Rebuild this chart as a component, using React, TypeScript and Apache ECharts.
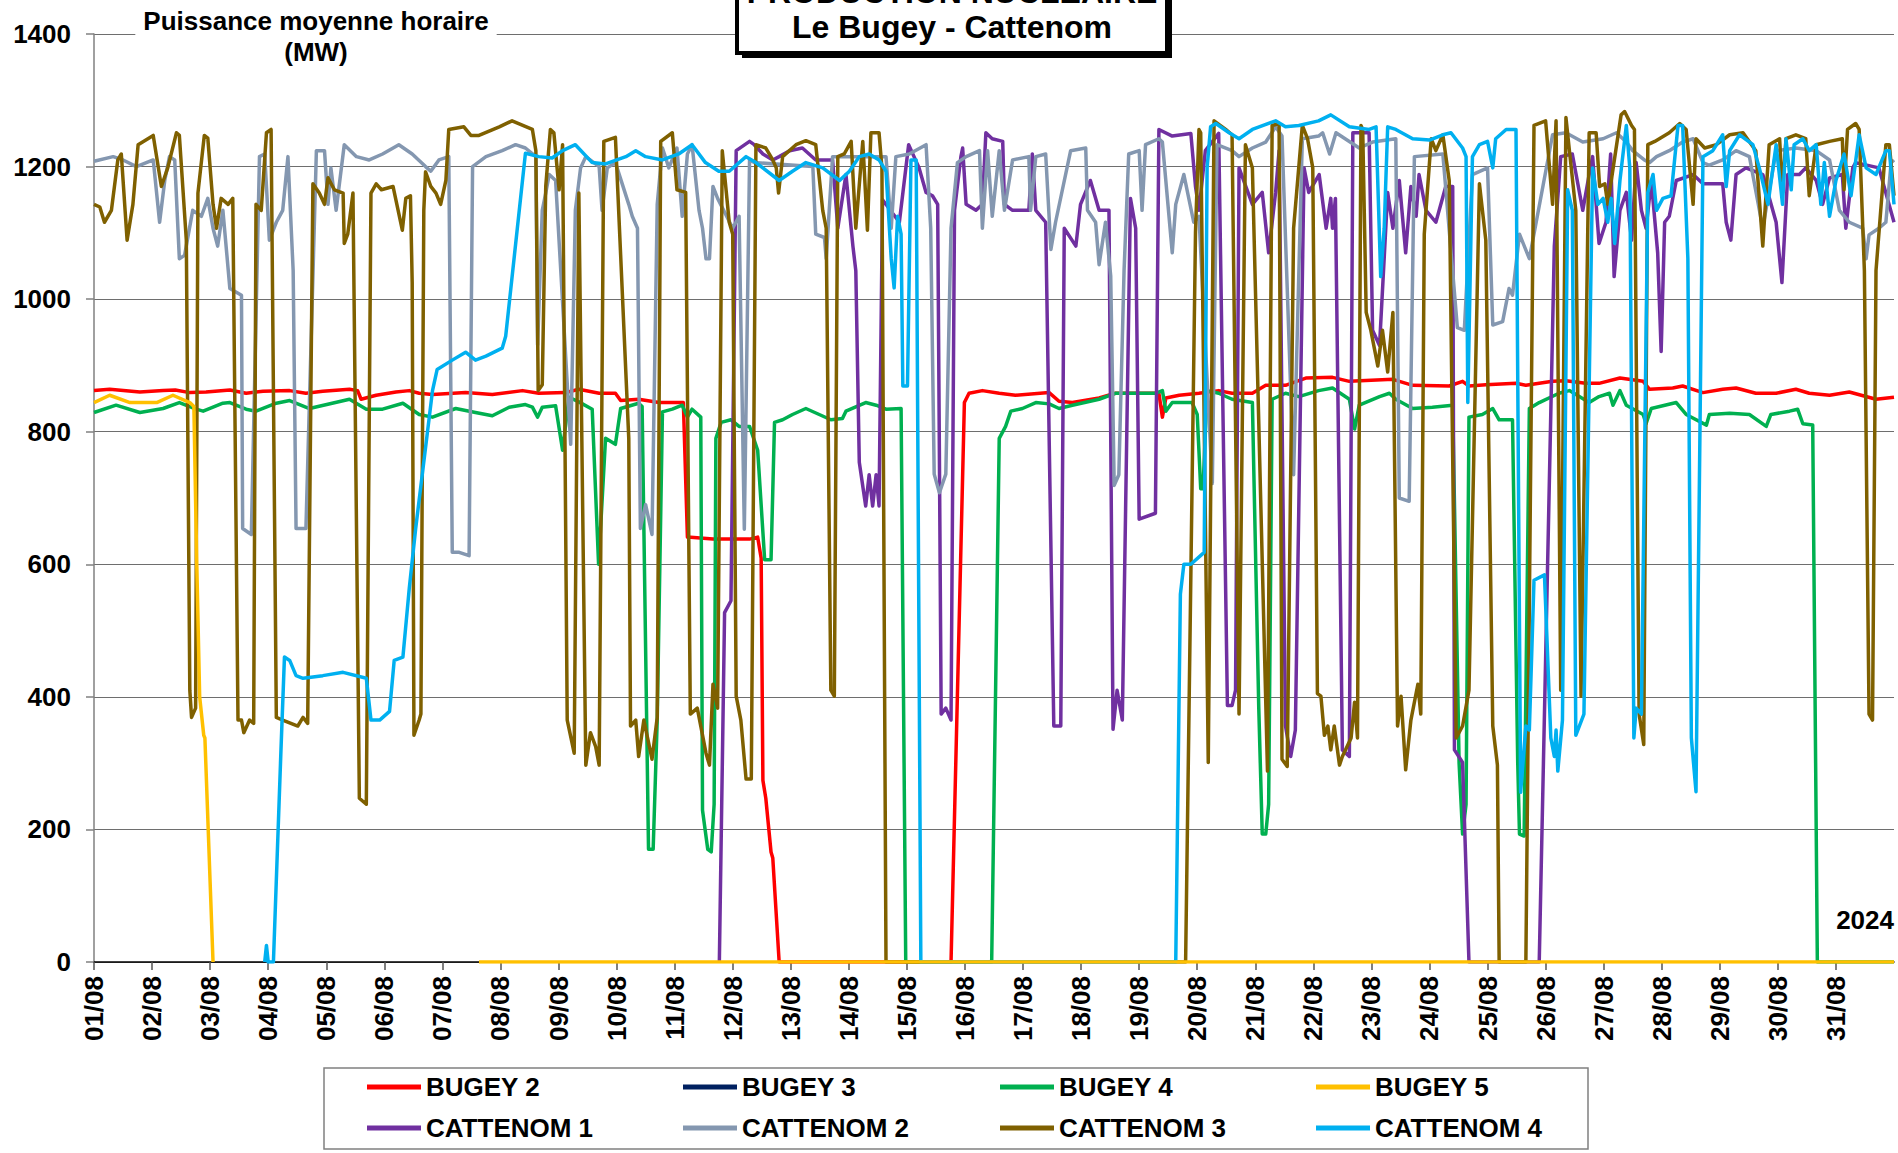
import React, { useEffect, useRef } from 'react';
import * as echarts from 'echarts';

// Time axis: days elapsed since 01/08 00:00 ; values in MW
const DAY_LABELS = ['01/08','02/08','03/08','04/08','05/08','06/08','07/08','08/08','09/08','10/08','11/08','12/08','13/08','14/08','15/08','16/08','17/08','18/08','19/08','20/08','21/08','22/08','23/08','24/08','25/08','26/08','27/08','28/08','29/08','30/08','31/08'];
const Y_TICKS = [0, 200, 400, 600, 800, 1000, 1200, 1400];

const BUGEY2 = [[0,862],[0.27,864],[0.79,860],[1.19,862],[1.4,863],[1.65,859],[1.93,860],[2.34,863],[2.62,858],[2.91,861],[3.37,862],[3.65,858],[3.94,861],[4.4,864],[4.54,862],[4.6,849],[4.86,855],[5.2,860],[5.43,862],[5.6,858],[5.83,856],[6.4,859],[6.86,856],[7.38,862],[7.66,858],[8.12,859],[8.35,864],[8.7,858],[8.98,858],[9.07,847],[9.38,849],[9.73,844],[10.15,844],[10.22,641],[10.66,638],[11.29,638],[11.43,641],[11.49,609],[11.52,274],[11.57,247],[11.66,166],[11.69,157],[11.8,0],[14.76,0],[14.99,844],[15.07,858],[15.3,862],[15.59,858],[15.87,855],[16.45,859],[16.62,846],[16.85,844],[17.31,851],[17.59,858],[18.34,858],[18.4,822],[18.46,851],[18.69,855],[19.03,858],[19.37,862],[19.6,858],[19.95,858],[20.18,870],[20.52,870],[20.87,881],[21.33,882],[21.62,876],[22.37,879],[22.71,870],[23.34,869],[23.57,876],[23.68,869],[23.97,871],[24.49,873],[24.66,870],[25.12,876],[25.35,877],[25.69,873],[25.92,873],[26.28,881],[26.68,876],[26.79,864],[27.19,866],[27.36,869],[27.71,859],[28.05,864],[28.28,866],[28.62,858],[28.97,858],[29.31,864],[29.54,858],[29.89,855],[30.23,860],[30.69,849],[31,852]];

const BUGEY3 = [];

const BUGEY4 = [[0,829],[0.38,840],[0.79,829],[1.19,835],[1.47,844],[1.76,834],[1.88,831],[2.22,843],[2.34,844],[2.62,834],[2.79,831],[3.14,843],[3.37,847],[3.71,835],[4.4,849],[4.69,834],[4.97,834],[5.32,843],[5.6,826],[5.83,822],[6.23,835],[6.57,829],[6.86,824],[7.15,837],[7.43,841],[7.55,837],[7.64,822],[7.72,837],[7.95,839],[8.07,772],[8.18,852],[8.35,845],[8.58,834],[8.69,600],[8.81,790],[8.98,781],[9.07,835],[9.38,843],[9.44,838],[9.55,170],[9.63,170],[9.7,365],[9.79,830],[9.96,834],[10.13,840],[10.22,822],[10.3,834],[10.45,822],[10.48,229],[10.57,170],[10.63,166],[10.68,238],[10.71,790],[10.8,814],[10.97,818],[11.11,808],[11.29,808],[11.43,772],[11.55,607],[11.66,607],[11.72,814],[11.86,818],[12.03,826],[12.26,835],[12.49,826],[12.69,818],[12.89,820],[12.95,831],[13.29,844],[13.47,840],[13.64,834],[13.9,835],[13.98,0],[15.46,0],[15.59,790],[15.7,808],[15.79,831],[15.99,835],[16.22,844],[16.45,842],[16.62,835],[16.85,840],[17.31,849],[17.59,858],[18.28,858],[18.4,862],[18.46,831],[18.57,844],[18.91,844],[19.0,826],[19.06,714],[19.1,714],[19.17,862],[19.37,858],[19.6,849],[19.95,844],[20.06,383],[20.12,193],[20.18,193],[20.23,238],[20.29,849],[20.52,858],[20.75,853],[21.09,862],[21.33,866],[21.62,849],[21.71,804],[21.79,840],[22.14,853],[22.31,858],[22.42,849],[22.71,835],[23.05,837],[23.4,840],[23.51,300],[23.57,193],[23.63,238],[23.68,822],[23.91,826],[24.09,835],[24.2,818],[24.43,818],[24.52,300],[24.55,193],[24.63,190],[24.72,835],[24.89,844],[25.23,858],[25.41,862],[25.58,853],[25.75,844],[25.92,853],[26.1,858],[26.16,840],[26.28,862],[26.39,840],[26.68,826],[26.73,812],[26.82,835],[27.25,844],[27.42,826],[27.77,810],[27.82,826],[28.17,828],[28.51,826],[28.8,808],[28.88,826],[29.2,831],[29.34,834],[29.43,812],[29.6,810],[29.68,0],[31,0]];

const BUGEY5 = [[0,844],[0.27,855],[0.62,844],[1.08,844],[1.36,855],[1.65,844],[1.72,838],[1.77,600],[1.82,400],[1.89,342],[1.91,338],[2.0,120],[2.05,0],[4,null],[6.63,0],[31,0]];

const CATTENOM1 = [[10.77,0],[10.86,527],[10.97,545],[11.06,1224],[11.29,1238],[11.37,1233],[11.52,1219],[11.69,1210],[11.8,1215],[11.98,1224],[12.2,1228],[12.43,1210],[12.72,1210],[12.81,1107],[12.95,1188],[13.07,1080],[13.12,1043],[13.18,754],[13.29,688],[13.35,735],[13.41,688],[13.47,735],[13.52,688],[13.58,1150],[13.87,1116],[14.03,1233],[14.21,1198],[14.33,1161],[14.44,1156],[14.53,1143],[14.59,374],[14.67,383],[14.76,365],[14.82,1134],[14.93,1215],[14.96,1228],[15.02,1143],[15.19,1134],[15.3,1143],[15.36,1251],[15.47,1242],[15.65,1238],[15.68,1143],[15.82,1134],[16.1,1134],[16.16,1219],[16.22,1134],[16.39,1116],[16.53,356],[16.65,356],[16.71,1107],[16.91,1080],[16.99,1143],[17.16,1179],[17.31,1134],[17.48,1134],[17.55,351],[17.62,410],[17.71,365],[17.85,1152],[17.94,1107],[18.0,668],[18.28,677],[18.34,1256],[18.57,1246],[18.89,1250],[18.97,1170],[19.03,1134],[19.14,1224],[19.37,1250],[19.52,387],[19.6,387],[19.66,410],[19.72,1198],[19.95,1143],[20.12,1161],[20.23,1070],[20.35,1161],[20.41,1224],[20.52,356],[20.61,310],[20.69,350],[20.84,1198],[20.92,1161],[21.1,1188],[21.22,1107],[21.3,1152],[21.33,1107],[21.38,1152],[21.5,320],[21.62,310],[21.68,1251],[21.96,1251],[22.02,953],[22.14,930],[22.28,1161],[22.37,1107],[22.48,1179],[22.59,1070],[22.68,1170],[22.77,1125],[22.82,1188],[22.94,1134],[23.11,1116],[23.28,1170],[23.4,1170],[23.43,320],[23.57,301],[23.68,0],[24.89,0],[25.15,1080],[25.26,1215],[25.46,1219],[25.64,1134],[25.75,1188],[25.81,1215],[25.92,1084],[26.04,1116],[26.12,1219],[26.18,1034],[26.28,1134],[26.39,1161],[26.48,1089],[26.56,1206],[26.65,1134],[26.73,1107],[26.82,1179],[26.93,1070],[26.99,921],[27.05,1116],[27.13,1125],[27.25,1179],[27.54,1188],[27.71,1174],[28.05,1174],[28.11,1116],[28.19,1089],[28.28,1188],[28.45,1198],[28.74,1188],[28.97,1116],[29.07,1025],[29.17,1188],[29.37,1188],[29.48,1198],[29.66,1179],[29.77,1143],[29.89,1183],[30.11,1188],[30.17,1107],[30.29,1198],[30.34,1206],[30.74,1198],[31,1116]];

const CATTENOM2 = [[0,1208],[0.33,1215],[0.5,1210],[0.73,1200],[1.02,1210],[1.13,1116],[1.22,1180],[1.3,1215],[1.39,1210],[1.47,1061],[1.56,1066],[1.7,1134],[1.85,1125],[1.96,1152],[2.05,1107],[2.13,1080],[2.22,1134],[2.34,1016],[2.54,1006],[2.56,654],[2.71,645],[2.85,1215],[2.94,1219],[3.02,1089],[3.14,1116],[3.25,1134],[3.34,1215],[3.43,1043],[3.48,654],[3.65,654],[3.83,1224],[3.97,1224],[4.03,1143],[4.08,1198],[4.17,1134],[4.31,1233],[4.52,1215],[4.74,1210],[4.97,1219],[5.25,1233],[5.48,1219],[5.71,1200],[5.8,1193],[5.94,1210],[6.11,1215],[6.17,618],[6.29,618],[6.46,613],[6.52,1200],[6.75,1215],[7.03,1224],[7.26,1233],[7.43,1228],[7.61,1215],[7.64,931],[7.72,1134],[7.78,1160],[7.84,1188],[7.95,1179],[8.21,781],[8.29,1134],[8.38,1198],[8.47,1215],[8.7,1200],[8.75,1134],[8.84,1198],[8.98,1206],[9.21,1143],[9.27,1125],[9.36,1107],[9.41,654],[9.5,690],[9.61,645],[9.7,1143],[9.79,1228],[9.9,1198],[10.04,1228],[10.13,1125],[10.22,1219],[10.3,1233],[10.42,1134],[10.48,1107],[10.54,1061],[10.6,1061],[10.66,1170],[10.74,1152],[11.0,1107],[11.11,1125],[11.2,653],[11.29,1210],[11.37,1206],[12.38,1200],[12.43,1098],[12.58,1093],[12.61,1061],[12.72,1215],[13.64,1215],[13.73,1107],[13.81,1215],[14.04,1219],[14.33,1233],[14.41,1107],[14.47,736],[14.56,708],[14.67,736],[14.76,1107],[14.87,1206],[15.02,1215],[15.25,1224],[15.3,1107],[15.39,1224],[15.47,1125],[15.59,1224],[15.68,1134],[15.82,1210],[16.1,1215],[16.13,1134],[16.22,1215],[16.39,1219],[16.48,1075],[16.56,1116],[16.82,1224],[17.08,1228],[17.11,1134],[17.25,1116],[17.31,1052],[17.42,1116],[17.51,1035],[17.57,719],[17.65,735],[17.74,1043],[17.82,1219],[18.0,1224],[18.05,1134],[18.11,1233],[18.34,1242],[18.4,1237],[18.57,1070],[18.63,1143],[18.77,1188],[18.94,1116],[19.03,1125],[19.26,722],[19.34,1233],[19.6,1224],[19.72,1215],[19.95,1228],[20.18,1237],[20.35,1260],[20.46,1246],[20.66,735],[20.81,1242],[21.09,1246],[21.16,1251],[21.28,1219],[21.39,1251],[21.79,1228],[22.02,1237],[22.42,1242],[22.48,700],[22.65,695],[22.74,1215],[23.23,1219],[23.48,957],[23.6,953],[23.74,1188],[24.0,1198],[24.09,961],[24.26,966],[24.37,1016],[24.43,1006],[24.55,1098],[24.72,1061],[25.12,1248],[25.35,1251],[25.64,1237],[25.99,1242],[26.22,1251],[26.39,1237],[26.5,1224],[26.7,1210],[26.79,1206],[26.91,1215],[27.13,1224],[27.36,1237],[27.54,1242],[27.71,1206],[27.82,1202],[28.05,1210],[28.28,1224],[28.51,1215],[28.74,1107],[28.97,1224],[29.31,1228],[29.66,1224],[29.89,1210],[30.06,1134],[30.23,1116],[30.46,1107],[30.52,1061],[30.57,1097],[30.74,1107],[30.86,1116],[30.95,1206],[31,1210]];

const CATTENOM3 = [[0,1143],[0.1,1139],[0.18,1116],[0.3,1134],[0.41,1210],[0.47,1219],[0.57,1089],[0.67,1143],[0.76,1233],[1.02,1247],[1.16,1170],[1.27,1198],[1.42,1251],[1.47,1247],[1.59,1089],[1.65,410],[1.68,369],[1.75,383],[1.79,1160],[1.9,1247],[1.96,1243],[2.05,1143],[2.11,1107],[2.19,1152],[2.31,1143],[2.39,1152],[2.48,365],[2.54,365],[2.58,346],[2.68,365],[2.75,360],[2.79,1143],[2.88,1134],[2.97,1251],[3.05,1256],[3.14,369],[3.25,365],[3.51,356],[3.6,369],[3.68,360],[3.77,1174],[3.88,1160],[3.97,1143],[4.03,1183],[4.14,1165],[4.29,1160],[4.31,1084],[4.37,1098],[4.46,1160],[4.57,247],[4.69,238],[4.77,1160],[4.86,1174],[4.95,1165],[5.15,1170],[5.31,1104],[5.37,1152],[5.45,1156],[5.48,1025],[5.51,342],[5.6,365],[5.63,374],[5.68,1134],[5.71,1192],[5.8,1170],[5.89,1160],[5.97,1143],[6.06,1179],[6.11,1256],[6.37,1260],[6.49,1247],[6.63,1247],[6.98,1260],[7.2,1269],[7.55,1256],[7.61,1224],[7.65,862],[7.72,871],[7.78,1170],[7.86,1256],[7.92,1251],[8.01,1165],[8.07,1233],[8.15,365],[8.27,315],[8.35,1160],[8.47,297],[8.55,346],[8.64,325],[8.7,297],[8.78,1238],[8.98,1244],[9.21,790],[9.24,356],[9.33,365],[9.38,310],[9.47,365],[9.61,306],[9.7,369],[9.76,1238],[9.96,1251],[10.04,1165],[10.19,1161],[10.27,374],[10.39,383],[10.54,315],[10.6,297],[10.66,419],[10.74,383],[10.82,1224],[10.94,1116],[11.0,1098],[11.06,401],[11.14,365],[11.23,276],[11.32,276],[11.4,1233],[11.57,1228],[11.69,1210],[11.75,1198],[11.79,1160],[11.86,1215],[12.09,1233],[12.26,1239],[12.43,1233],[12.55,1134],[12.61,1107],[12.69,410],[12.75,401],[12.81,1215],[12.92,1219],[13.04,1238],[13.12,1107],[13.24,1238],[13.32,1104],[13.38,1251],[13.52,1251],[13.57,1198],[13.64,0],[18.8,0],[18.97,1100],[19.03,1256],[19.06,1251],[19.19,301],[19.29,1269],[19.49,1256],[19.6,1248],[19.72,374],[19.83,1233],[19.95,1198],[20.21,288],[20.29,1262],[20.41,1265],[20.46,306],[20.55,295],[20.66,1107],[20.81,1262],[20.9,1242],[20.99,1198],[21.07,405],[21.13,401],[21.19,342],[21.25,356],[21.3,320],[21.36,356],[21.45,297],[21.5,310],[21.65,338],[21.71,392],[21.76,338],[21.82,1262],[21.85,1256],[21.91,980],[21.99,953],[22.11,899],[22.19,953],[22.28,890],[22.37,980],[22.45,356],[22.51,401],[22.59,290],[22.68,365],[22.8,419],[22.85,374],[22.91,1098],[23.03,1242],[23.11,1224],[23.23,1248],[23.34,1179],[23.46,338],[23.57,356],[23.68,410],[23.86,1174],[23.97,1089],[24.09,356],[24.17,297],[24.2,0],[24.66,0],[24.8,1262],[25.0,1269],[25.12,1143],[25.18,1269],[25.26,410],[25.35,1274],[25.41,1224],[25.52,1134],[25.61,401],[25.75,1251],[25.87,1251],[25.93,1170],[26.02,1174],[26.07,1143],[26.3,1278],[26.36,1283],[26.48,1262],[26.53,1256],[26.61,374],[26.69,328],[26.76,1233],[26.88,1238],[27.13,1251],[27.31,1265],[27.42,1256],[27.54,1143],[27.59,1242],[27.74,1228],[27.94,1233],[28.17,1248],[28.4,1251],[28.62,1224],[28.74,1080],[28.85,1233],[29.03,1242],[29.08,1161],[29.14,1242],[29.31,1248],[29.48,1242],[29.54,1156],[29.66,1233],[29.89,1238],[30.11,1242],[30.14,1165],[30.2,1256],[30.34,1265],[30.4,1256],[30.49,1043],[30.57,374],[30.63,365],[30.69,1043],[30.86,1233],[30.92,1233],[31,1156]];

const CATTENOM4 = [[2.94,0],[2.97,25],[3.0,0],[3.09,0],[3.22,320],[3.28,460],[3.37,455],[3.48,432],[3.6,428],[3.94,432],[4.29,437],[4.69,428],[4.77,365],[4.92,365],[5.09,378],[5.17,455],[5.32,460],[5.43,564],[5.54,654],[5.83,862],[5.91,894],[6.17,908],[6.4,920],[6.57,908],[6.75,914],[7.03,926],[7.09,944],[7.43,1220],[7.66,1215],[7.89,1213],[8.07,1224],[8.29,1233],[8.58,1206],[8.81,1204],[9.16,1215],[9.33,1224],[9.5,1215],[9.79,1210],[10.07,1219],[10.3,1233],[10.53,1206],[10.76,1193],[10.94,1193],[11.23,1215],[11.4,1206],[11.8,1179],[12.03,1193],[12.26,1206],[12.55,1198],[12.84,1179],[13.01,1193],[13.18,1215],[13.35,1219],[13.52,1210],[13.64,1193],[13.73,1061],[13.78,1017],[13.84,1125],[13.9,1098],[13.93,869],[14.01,869],[14.07,1210],[14.16,1210],[14.24,0],[18.63,0],[18.71,555],[18.77,600],[18.89,600],[19.12,618],[19.17,1198],[19.23,1260],[19.32,1265],[19.55,1251],[19.72,1242],[19.95,1256],[20.35,1269],[20.52,1260],[20.75,1262],[21.09,1269],[21.3,1278],[21.62,1260],[21.96,1256],[22.08,1260],[22.16,1034],[22.22,1107],[22.28,1260],[22.42,1256],[22.71,1242],[23.0,1240],[23.23,1248],[23.37,1251],[23.57,1228],[23.63,1215],[23.66,844],[23.74,1215],[23.86,1233],[24.0,1238],[24.09,1198],[24.14,1242],[24.32,1256],[24.49,1256],[24.57,256],[24.66,356],[24.72,350],[24.8,576],[24.98,584],[25.09,338],[25.15,310],[25.18,350],[25.21,288],[25.29,365],[25.38,1165],[25.46,1134],[25.52,342],[25.66,374],[25.81,1198],[25.9,1143],[25.99,1152],[26.07,1116],[26.13,1152],[26.19,1084],[26.28,1179],[26.39,1262],[26.45,1198],[26.52,338],[26.56,383],[26.65,374],[26.76,1161],[26.85,1188],[26.91,1134],[27.02,1152],[27.16,1156],[27.28,1262],[27.36,1262],[27.45,1061],[27.51,338],[27.59,257],[27.71,1215],[27.88,1224],[28.05,1248],[28.11,1170],[28.17,1224],[28.34,1248],[28.57,1233],[28.68,1198],[28.83,1143],[28.97,1233],[29.08,1143],[29.14,1242],[29.23,1165],[29.28,1233],[29.43,1242],[29.54,1224],[29.66,1233],[29.74,1143],[29.8,1206],[29.89,1125],[30.0,1179],[30.14,1219],[30.26,1156],[30.4,1248],[30.52,1198],[30.69,1188],[30.86,1224],[30.92,1224],[31,1143]];

const SERIES_NAMES = ['BUGEY 2', 'BUGEY 3', 'BUGEY 4', 'BUGEY 5', 'CATTENOM 1', 'CATTENOM 2', 'CATTENOM 3', 'CATTENOM 4'];
const SERIES_DATA = [BUGEY2, BUGEY3, BUGEY4, BUGEY5, CATTENOM1, CATTENOM2, CATTENOM3, CATTENOM4];
const SERIES_COLORS = ['#FF0000', '#002060', '#00B050', '#FFC000', '#7030A0', '#8497B0', '#7F6000', '#00B0F0'];

const FONT = '"Liberation Sans", Arial, sans-serif';

export default function App() {
  const ref = useRef<HTMLDivElement>(null);

  useEffect(() => {
    if (!ref.current) return;
    const chart = echarts.init(ref.current, null, { renderer: 'svg' });

    const legendLefts = [367, 683, 1000, 1316];
    const legendTops = [1073, 1114];

    const legends = SERIES_NAMES.map((name, i) => ({
      show: true,
      left: legendLefts[i % 4],
      top: legendTops[Math.floor(i / 4)],
      padding: 0,
      orient: 'horizontal',
      icon: 'rect',
      itemWidth: 54,
      itemHeight: 5,
      selectedMode: false,
      data: [name],
      textStyle: { fontFamily: FONT, fontWeight: 'bold', fontSize: 26, color: '#000', lineHeight: 28 },
    }));

    const series = SERIES_NAMES.map((name, i) => ({
      name,
      type: 'line',
      data: SERIES_DATA[i],
      color: SERIES_COLORS[i],
      showSymbol: false,
      symbol: 'none',
      connectNulls: false,
      silent: true,
      z: name === 'BUGEY 5' ? 5 : 2 + i * 0.01,
      lineStyle: { width: 3.5, color: SERIES_COLORS[i], join: 'round' },
    }));

    chart.setOption({
      animation: false,
      backgroundColor: '#ffffff',
      textStyle: { fontFamily: FONT },
      grid: { left: 94, right: 4, top: 34, bottom: 191, containLabel: false },
      legend: legends,
      xAxis: {
        type: 'value',
        min: 0,
        max: DAY_LABELS.length,
        interval: 1,
        axisLine: { show: true, lineStyle: { color: '#000', width: 1.5 } },
        axisTick: { show: true, length: 8, lineStyle: { color: '#555', width: 1.5 } },
        splitLine: { show: false },
        axisLabel: {
          rotate: 90,
          margin: 14,
          fontFamily: FONT,
          fontWeight: 'bold',
          fontSize: 26,
          color: '#000',
          showMaxLabel: false,
          formatter: (v: number) => (DAY_LABELS[Math.round(v)] ?? ''),
        },
      },
      yAxis: {
        type: 'value',
        min: Y_TICKS[0],
        max: Y_TICKS[Y_TICKS.length - 1],
        interval: Y_TICKS[1] - Y_TICKS[0],
        axisLine: { show: true, lineStyle: { color: '#808080', width: 1.5 } },
        axisTick: { show: true, length: 8, lineStyle: { color: '#808080', width: 1.5 } },
        splitLine: { show: true, lineStyle: { color: '#6e6e6e', width: 1 } },
        axisLabel: {
          margin: 23, fontFamily: FONT, fontWeight: 'bold', fontSize: 26, color: '#000',
          formatter: (v: number) => String(v),
        },
      },
      graphic: [
        {
          type: 'text',
          x: 316,
          y: 5,
          z: 100,
          style: {
            text: 'Puissance moyenne horaire\n(MW)',
            fontFamily: FONT,
            fontWeight: 'bold',
            fontSize: 26,
            lineHeight: 31,
            fill: '#000',
            align: 'center',
            verticalAlign: 'top',
            backgroundColor: '#fff',
            padding: [0, 8, 0, 8],
          },
        },
        {
          type: 'rect',
          z: 100,
          shape: { x: 742, y: -28, width: 430, height: 86 },
          style: { fill: '#000' },
        },
        {
          type: 'rect',
          z: 101,
          shape: { x: 737, y: -33, width: 430, height: 86 },
          style: { fill: '#fff', stroke: '#000', lineWidth: 4 },
        },
        {
          type: 'text',
          z: 102,
          x: 952,
          y: -8,
          style: {
            text: 'PRODUCTION NUCLEAIRE',
            fontFamily: FONT, fontWeight: 'bold', fontSize: 32, fill: '#000',
            align: 'center', verticalAlign: 'middle',
          },
        },
        {
          type: 'text',
          z: 102,
          x: 952,
          y: 27,
          style: {
            text: 'Le Bugey - Cattenom',
            fontFamily: FONT, fontWeight: 'bold', fontSize: 32, fill: '#000',
            align: 'center', verticalAlign: 'middle',
          },
        },
        {
          type: 'text',
          z: 100,
          x: 1894,
          y: 920,
          style: {
            text: '2024',
            fontFamily: FONT, fontWeight: 'bold', fontSize: 26, fill: '#000',
            align: 'right', verticalAlign: 'middle',
          },
        },
        {
          type: 'rect',
          z: 0,
          shape: { x: 324, y: 1068, width: 1264, height: 81 },
          style: { fill: 'none', stroke: '#808080', lineWidth: 1.5 },
        },
      ],
      series,
    });

    return () => chart.dispose();
  }, []);

  return (
    <div
      ref={ref}
      style={{ position: 'fixed', left: 0, top: 0, width: 1898, height: 1153, background: '#fff' }}
    />
  );
}
